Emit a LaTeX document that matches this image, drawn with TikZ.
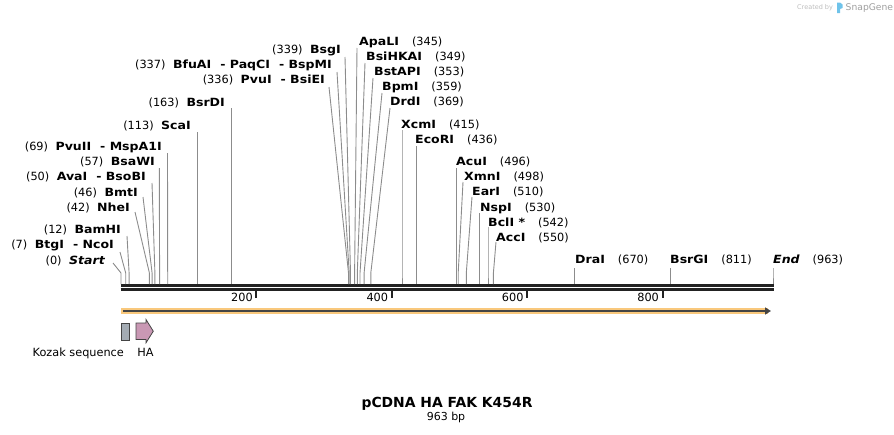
\documentclass[tikz,border=0pt]{standalone}
\usepackage{fontspec}
\setmainfont{DejaVu Sans}
\newfontfamily\namefont{DejaVu Sans}[FakeStretch=1.11]
\usetikzlibrary{arrows.meta}
\definecolor{leadc}{HTML}{8C8C8C}
\definecolor{barc}{HTML}{222222}
\definecolor{featorange}{HTML}{F9C87C}
\definecolor{featdark}{HTML}{444444}
\definecolor{kozakc}{HTML}{A3ABB3}
\definecolor{hac}{HTML}{C998B4}
\definecolor{wmgray}{HTML}{BDBDBD}
\definecolor{wmblue}{HTML}{6FC3EA}
\newcommand{\gapL}{\hspace{7.5pt}}
\newcommand{\gapR}{\hspace{13pt}}
\newcommand{\gapD}{\hspace{9pt}}
\newcommand{\nm}[1]{{\namefont\bfseries #1}}
\begin{document}
\begin{tikzpicture}[x=1pt,y=-1pt,
  lbl/.style={inner sep=0pt, font=\fontsize{11.3}{13}\selectfont},
  leader/.style={draw=leadc, line width=0.9pt},
  seqbar/.style={draw=barc},
  tickmark/.style={draw=barc, line width=2pt},
  ticklbl/.style={inner sep=0pt, font=\fontsize{11.3}{13}\selectfont, anchor=base east},
  featbox/.style={draw=featdark, line width=0.8pt}]
\useasboundingbox (0,0) rectangle (894,434);

% watermark
\node[inner sep=0pt, anchor=base west, text=wmgray, font=\fontsize{6.5}{8}\selectfont] (wm1) at (797,9.5) {Created by};
\fill[wmblue] (837,2.5) rectangle (840,13) (840,2.5) -- (842.5,4.5) -- (842.5,8) -- (840,9) -- cycle;
\node[inner sep=0pt, anchor=base west, text=gray!75, font=\fontsize{9.2}{10}\selectfont] (wm2) at (845.5,10.5) {SnapGene};

% sequence bar
\coordinate (barL1) at (120.5,285.3);
\coordinate (barR1) at (773.5,285.3);
\coordinate (barL2) at (120.5,289.4);
\coordinate (barR2) at (773.5,289.4);
\draw[seqbar, line width=2.7pt] (barL1) -- (barR1);
\draw[seqbar, line width=2.2pt] (barL2) -- (barR2);

% ticks
\foreach \tx/\tl [count=\j] in {256.4/200, 391.8/400, 527.2/600, 662.6/800}{
  \coordinate (ta\j) at (\tx,291);
  \coordinate (tb\j) at (\tx,297.5);
  \draw[tickmark] (ta\j) -- (tb\j);
  \node[ticklbl] (tl\j) at (\tx-3.5,301) {\tl};
}

% enzyme sites
\foreach \sx/\lx/\ly/\tx/\ty/\an/\txt [count=\i] in {
  121/113/263/105/264.5/east/{(0)\gapL\nm{\itshape Start}},
  125.7/120/252/114/248.5/east/{(7)\gapL\nm{BtgI\gapD- NcoI}},
  129.1/127/236/121/233.5/east/{(12)\gapL\nm{BamHI}},
  149.4/135/212/130/211.5/east/{(42)\gapL\nm{NheI}},
  152.1/143/197/138/196.5/east/{(46)\gapL\nm{BmtI}},
  154.9/152/183/146/180.5/east/{(50)\gapL\nm{AvaI\gapD- BsoBI}},
  159.6/159.3/168/155/165.5/east/{(57)\gapL\nm{BsaWI}},
  167.7/167.5/153/162/150.5/east/{(69)\gapL\nm{PvuII\gapD- MspA1I}},
  197.5/197.5/132/191/129.5/east/{(113)\gapL\nm{ScaI}},
  231.4/231.4/108/225/106.5/east/{(163)\gapL\nm{BsrDI}},
  348.5/329/87/325/83.5/east/{(336)\gapL\nm{PvuI\gapD- BsiEI}},
  349.2/337/72/332/68.5/east/{(337)\gapL\nm{BfuAI\gapD- PaqCI\gapD- BspMI}},
  350.5/345/57/341/53.5/east/{(339)\gapL\nm{BsgI}},
  354.6/357/48/359/45.5/west/{\nm{ApaLI}\gapR(345)},
  357.3/365/63/366/60.5/west/{\nm{BsiHKAI}\gapR(349)},
  360.0/373/78/374/75.5/west/{\nm{BstAPI}\gapR(353)},
  364.1/382/93/382/90.5/west/{\nm{BpmI}\gapR(359)},
  370.8/390/108/390/105.5/west/{\nm{DrdI}\gapR(369)},
  402.0/402/130/401/128.5/west/{\nm{XcmI}\gapR(415)},
  416.2/416.2/146/415/143.5/west/{\nm{EcoRI}\gapR(436)},
  456.8/456.8/168/456/165.5/west/{\nm{AcuI}\gapR(496)},
  458.2/463/182/464/180.5/west/{\nm{XmnI}\gapR(498)},
  466.3/472/197/472/195.5/west/{\nm{EarI}\gapR(510)},
  479.9/479.9/213/480/211.5/west/{\nm{NspI}\gapR(530)},
  488.0/488/227/488/226.5/west/{\nm{BclI *}\gapR(542)},
  493.4/496/242/496/241.5/west/{\nm{AccI}\gapR(550)},
  574.6/574.6/268/575/263.5/west/{\nm{DraI}\gapR(670)},
  670.1/670.1/268/670/263.5/west/{\nm{BsrGI}\gapR(811)},
  773/773/268/773/263.5/west/{\nm{\itshape End}\gapR(963)}}
{
  \node[lbl, anchor=base \an] (e\i) at (\tx,\ty) {\txt};
  \coordinate (a\i) at (\lx,\ly);
  \coordinate (k\i) at (\sx,273);
  \coordinate (b\i) at (\sx,284);
  \draw[leader] (a\i) -- (k\i) -- (b\i);
}

% orange feature arrow
\coordinate (fL) at (121,311);
\coordinate (fR) at (768,311);
\coordinate (fT) at (771,311);
\draw[featorange, line width=6.2pt] (fL) -- (fR);
\draw[featdark, line width=1.8pt, -{Triangle[length=6pt,width=7pt]}] ([xshift=2pt]fL) -- (fT);

% Kozak sequence
\node[featbox, fill=kozakc, minimum width=7.5pt, minimum height=16.5pt, inner sep=0pt, anchor=north west] (kozak) at (121,323) {};
\node[inner sep=0pt, anchor=base, font=\fontsize{11.3}{13}\selectfont] (kozaklbl) at (78.3,356) {Kozak sequence};

% HA
\draw[featbox, fill=hac] (136,323) -- (146,323) -- (146,319.5) -- (153.3,331.2) -- (146,342.8) -- (146,339.5) -- (136,339.5) -- cycle;
\node[inner sep=0pt, anchor=base, font=\fontsize{11.3}{13}\selectfont] (halbl) at (145.6,356) {HA};

% title
\node[inner sep=0pt, anchor=base, font=\fontsize{13.9}{16}\selectfont\bfseries] (title) at (447,407.3) {pCDNA HA FAK K454R};
\node[inner sep=0pt, anchor=base, font=\fontsize{11}{13}\selectfont] (bp) at (446,420.7) {963 bp};
\end{tikzpicture}
\end{document}
